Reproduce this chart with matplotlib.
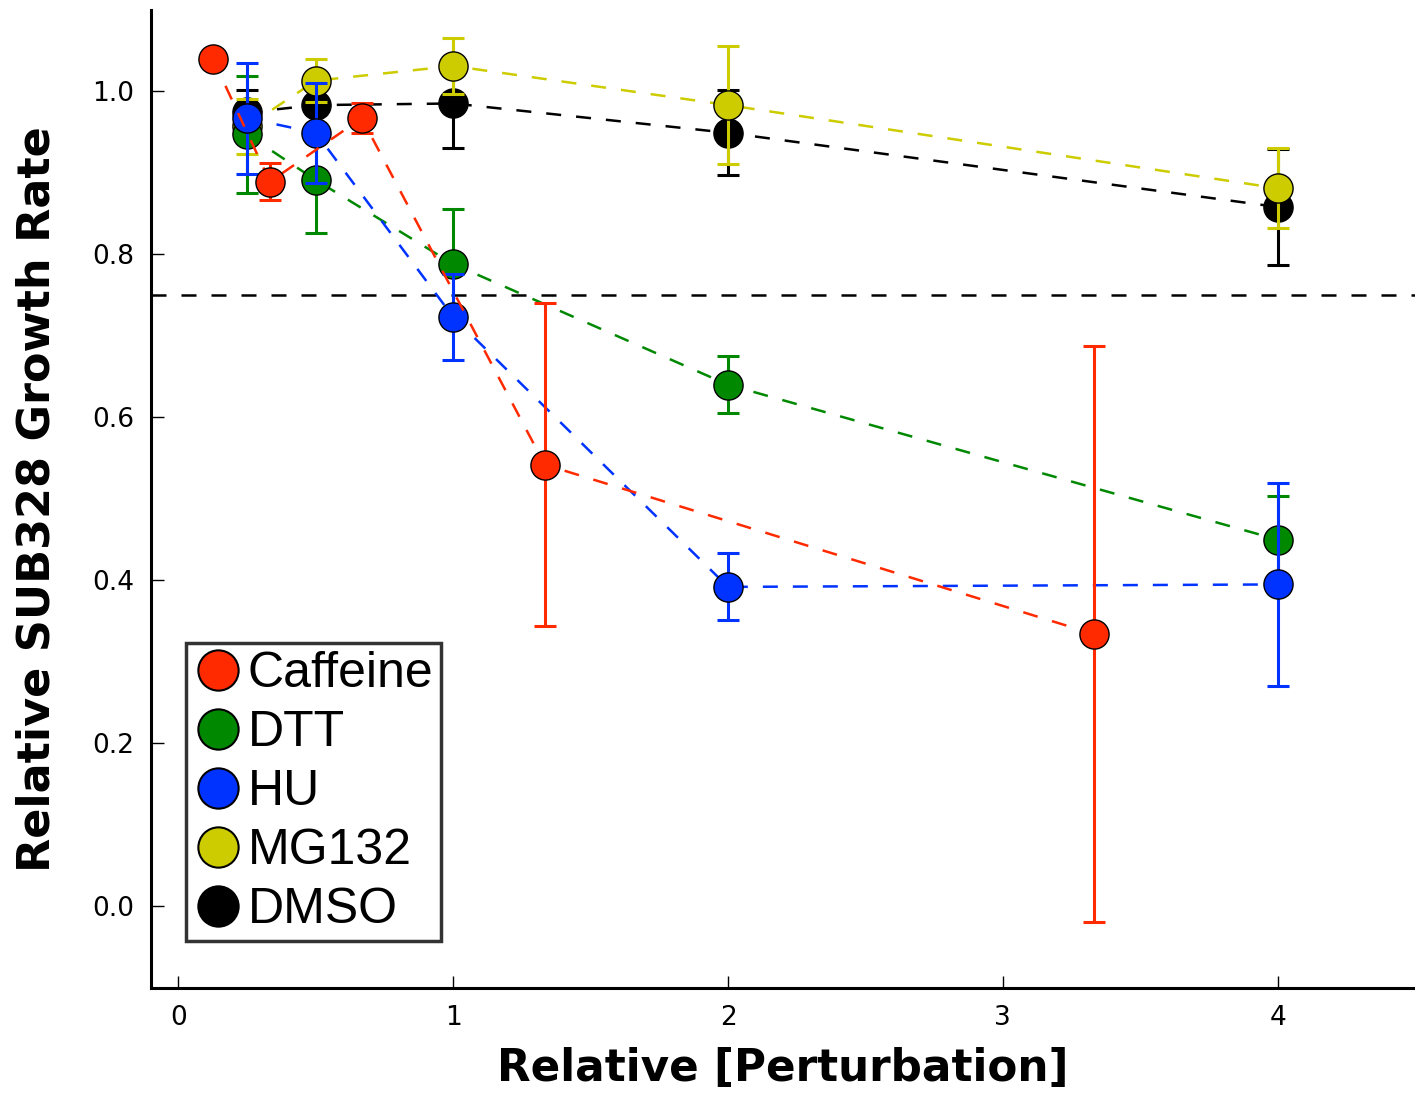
import matplotlib
matplotlib.use("Agg")
from matplotlib import pyplot as plt
from matplotlib.lines import Line2D

# concentrations (relative)
caffeine_x = [0.125, 0.333, 0.667, 1.333, 3.333]
caffeine_y = [1.040, 0.889, 0.967, 0.542, 0.334]
caffeine_err = [0.0, 0.023, 0.018, 0.198, 0.353]

dose_x = [0.25, 0.5, 1, 2, 4]

dtt_y = [0.947, 0.891, 0.788, 0.640, 0.450]
dtt_err = [0.072, 0.065, 0.068, 0.035, 0.054]

hu_y = [0.967, 0.949, 0.723, 0.392, 0.395]
hu_err = [0.068, 0.061, 0.053, 0.041, 0.124]

mg132_y = [0.957, 1.013, 1.031, 0.983, 0.881]
mg132_err = [0.034, 0.026, 0.034, 0.072, 0.049]

dmso_y = [0.974, 0.983, 0.985, 0.949, 0.858]
dmso_err = [0.028, 0.010, 0.055, 0.052, 0.071]

threshold = 0.75

labels = ["Caffeine", "DTT", "HU", "MG132", "DMSO"]
colors = ["#ff2a00", "#008800", "#0033ff", "#cccc00", "#000000"]
xticks = [0, 1, 2, 3, 4]
yticks = [0.0, 0.2, 0.4, 0.6, 0.8, 1.0]

series = [
    (caffeine_x, caffeine_y, caffeine_err, 6),
    (dose_x, dtt_y, dtt_err, 4),
    (dose_x, hu_y, hu_err, 5),
    (dose_x, mg132_y, mg132_err, 3),
    (dose_x, dmso_y, dmso_err, 2),
]

fig = plt.figure(figsize=(14.15, 10.93), dpi=100)
ax = fig.add_axes([0.1067, 0.0961, 0.8933, 0.895])

for (x, y, err, z), c in zip(series, colors):
    # only points that actually have an error bar
    keep = [i for i in range(len(x)) if err[i] > 0]
    ax.errorbar([x[i] for i in keep], [y[i] for i in keep],
                yerr=[err[i] for i in keep], fmt="none", ecolor=c,
                elinewidth=2.2, capsize=8, capthick=2.2, zorder=z)
    ax.plot(x, y, color=c, linestyle=(0, (6, 6)), linewidth=1.8,
            marker="o", markersize=21, markerfacecolor=c,
            markeredgecolor="black", markeredgewidth=1.0, zorder=z + 0.05)

ax.axhline(threshold, color="black", linestyle=(0, (6, 6)), linewidth=1.8, zorder=1)

ax.set_xlim(-0.1, 4.5)
ax.set_ylim(-0.1, 1.1)
ax.set_xticks(xticks)
ax.set_yticks(yticks)
ax.set_yticklabels(["%.1f" % t for t in yticks])

for s in ["top", "right"]:
    ax.spines[s].set_visible(False)
for s in ["left", "bottom"]:
    ax.spines[s].set_linewidth(2.2)

ax.tick_params(direction="in", length=9, width=1, labelsize=19, pad=12,
               top=False, right=False)

ax.set_xlabel("Relative [Perturbation]", fontsize=31.5, fontweight="bold", labelpad=12)
ax.set_ylabel("Relative SUB328 Growth Rate", fontsize=32, fontweight="bold", labelpad=24)

handles = [Line2D([], [], linestyle="none", marker="o", markersize=29,
                  markerfacecolor=c, markeredgecolor="black", markeredgewidth=1.5)
           for c in colors]
leg = ax.legend(handles, labels, loc="lower left", bbox_to_anchor=(0.028, 0.048),
                borderaxespad=0, frameon=True, fancybox=False,
                prop={"family": "Liberation Sans", "size": 36},
                labelspacing=0.26, handletextpad=0.12, handlelength=0.95,
                borderpad=0.16)
leg.get_frame().set_edgecolor("black")
leg.get_frame().set_linewidth(2.5)

fig.savefig("out.png", dpi=100)
